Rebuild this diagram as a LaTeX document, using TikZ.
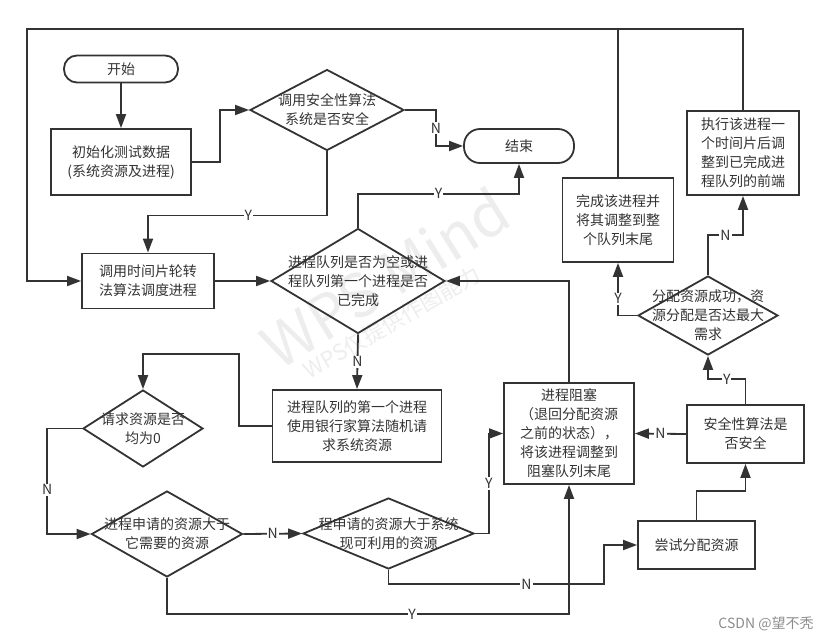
\documentclass[tikz,border=0pt]{standalone}
\usepackage{fontspec}
\setmainfont{Noto Sans CJK SC}
\usetikzlibrary{shapes.geometric,arrows.meta}
\definecolor{inkgray}{RGB}{51,51,51}
\definecolor{markgray}{RGB}{140,140,140}

\begin{document}
\begin{tikzpicture}[x=1pt,y=-1pt,
    line/.style={draw=inkgray, line width=1.8pt},
    arrow/.style={line, -{Triangle[length=14pt,width=10pt]}},
    box/.style={draw=inkgray, line width=1.8pt, rectangle, align=center, text=inkgray,
        font=\fontsize{14}{19}\selectfont, inner sep=2pt},
    term/.style={box, rounded corners=#1},
    decision/.style={draw=inkgray, line width=1.8pt, diamond, inner sep=0pt},
    dtext/.style={text=inkgray, align=center, font=\fontsize{14}{19}\selectfont},
    lbl/.style={fill=white, inner sep=1pt, text=inkgray, font=\fontsize{14}{14}\selectfont},
    wm/.style={text=black!7}]
    \useasboundingbox (0,0) rectangle (831,642);
    % watermark
    \node[wm, rotate=32, font=\fontsize{60}{60}\selectfont] (wmbig) at (385,278) {WPS Mind};
    \node[wm, rotate=30, font=\fontsize{22}{22}\selectfont] (wmsmall) at (392,322) {WPS仅提供作图能力};

    % nodes
    \node[term=13pt, minimum width=114pt, minimum height=27pt] (start) at (121,69) {开始};
    \node[box, minimum width=140pt, minimum height=66pt] (init) at (121,162) {初始化测试数据\\(系统资源及进程)};
    \node[decision, minimum width=154pt, minimum height=81pt,
        label={[dtext]center:{调用安全性算法\\系统是否安全}}] (safe) at (327,110) {};
    \node[term=16pt, minimum width=110pt, minimum height=34pt] (end) at (519,146) {结束};
    \node[box, minimum width=132pt, minimum height=55pt] (sched) at (148,281) {调用时间片轮转\\法算法调度进程};
    \node[decision, minimum width=174pt, minimum height=105pt,
        label={[dtext]center:{进程队列是否为空或进\\程队列第一个进程是否\\已完成}}] (queue) at (358,281) {};
    \node[box, minimum width=111pt, minimum height=84pt] (done) at (618,220) {完成该进程并\\将其调整到整\\个队列末尾};
    \node[box, minimum width=112pt, minimum height=84pt] (exec) at (743,153) {执行该进程一\\个时间片后调\\整到已完成进\\程队列的前端};
    \node[decision, minimum width=140pt, minimum height=79pt,
        label={[dtext]center:{分配资源成功，资\\源分配是否达最大\\需求}}] (alloc) at (708,315.5) {};
    \node[box, minimum width=169pt, minimum height=72pt] (first) at (357,426) {进程队列的第一个进程\\使用银行家算法随机请\\求系统资源};
    \node[decision, minimum width=120pt, minimum height=77pt,
        label={[dtext]center:{请求资源是否\\均为0}}] (req) at (143,428.5) {};
    \node[decision, minimum width=151pt, minimum height=86pt,
        label={[dtext]center:{进程申请的资源大于\\它需要的资源}}] (need) at (167,534) {};
    \node[decision, minimum width=171pt, minimum height=71pt,
        label={[dtext]center:{程申请的资源大于系统\\现可利用的资源}}] (avail) at (388.5,533.5) {};
    \node[box, minimum width=130pt, minimum height=101pt] (block) at (569,433.5) {进程阻塞\\（退回分配资源\\之前的状态），\\将该进程调整到\\阻塞队列末尾};
    \node[box, minimum width=117pt, minimum height=58pt] (safety) at (745.5,434) {安全性算法是\\否安全};
    \node[box, minimum width=117pt, minimum height=48pt] (try) at (696.5,545) {尝试分配资源};
    \coordinate (loop) at (27,29);
    \node[text=markgray, font=\fontsize{14}{14}\selectfont] (csdn) at (766,624) {CSDN @望不秃};

    % connectors
    \draw[arrow] (start) -- (init);
    \draw[arrow] (init.east) -- ++(28,0) |- (safe.west);
    \draw[arrow] (safe.east) -- ++(31,0) |- node[lbl,pos=0.25]{N} (end.west);
    \draw[arrow] (safe.south) -- ++(0,64) -| node[lbl,pos=0.22]{Y} (sched.north);
    \draw[arrow] (done.north) |- (loop) |- (sched.west);
    \draw[line] (exec.north) |- (loop);
    \draw[arrow] (sched) -- (queue);
    \draw[arrow] (queue.north) -- ++(0,-34) -| node[lbl,pos=0.25]{Y} (end.south);
    \draw[arrow] (queue.south) -- node[lbl]{N} (first.north);
    \draw[arrow] (first.west) -| ++(-33,-72) -| (req.north);
    \draw[arrow] (req.west) -- ++(-35,0) |- node[lbl,pos=0.29]{N} (need.west);
    \draw[arrow] (need.east) -- node[lbl]{N} (avail.west);
    \draw[arrow] (avail.east) -- ++(14,0) |- node[lbl,pos=0.25]{Y} (block.west);
    \draw[arrow] (avail.south) -- ++(0,14) -| node[lbl,pos=0.32]{N} ([xshift=-33pt]try.west) -- (try.west);
    \draw[arrow] (need.south) -- ++(0,36) -| node[lbl,pos=0.305]{Y} (block.south);
    \draw[arrow] (block.north) |- (queue.east);
    \draw[arrow] (try.north) -- ++(0,-29) -| (safety.south);
    \draw[arrow] (safety.west) -- node[lbl]{N} (block.east);
    \draw[arrow] (safety.north) -- ++(0,-25) -| node[lbl,pos=0.25]{Y} (alloc.south);
    \draw[arrow] (alloc.west) -| node[lbl,pos=0.66]{Y} (done.south);
    \draw[arrow] (alloc.north) -- ++(0,-40) -| node[lbl,pos=0.25]{N} (exec.south);
\end{tikzpicture}
\end{document}
